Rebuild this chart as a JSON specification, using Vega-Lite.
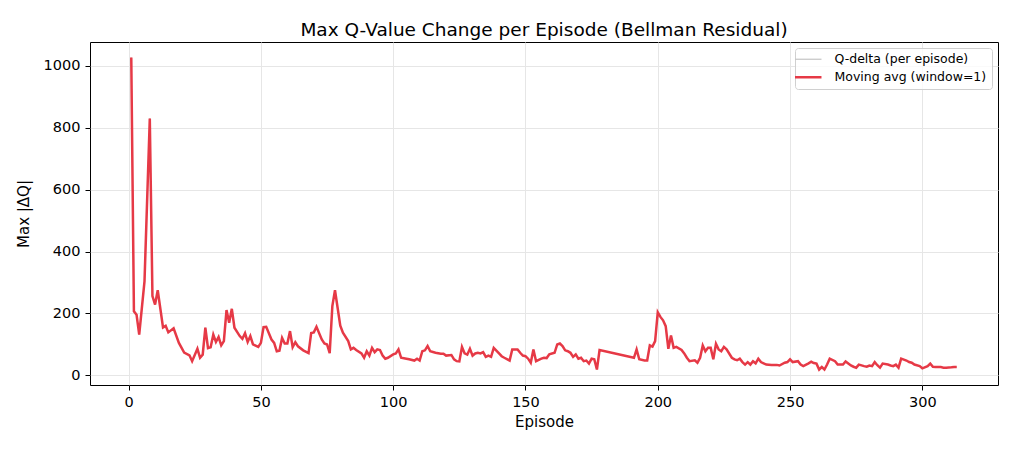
{
  "$schema": "https://vega.github.io/schema/vega-lite/v6.json",
  "autosize": {"type": "none"},
  "padding": {"left": 90, "top": 42, "right": 18, "bottom": 67},
  "width": 908,
  "height": 343,
  "background": "white",
  "title": {
    "text": "Max Q-Value Change per Episode (Bellman Residual)",
    "font": "DejaVu Sans",
    "fontSize": 18.5,
    "fontWeight": "normal",
    "color": "black",
    "anchor": "middle",
    "offset": 3
  },
  "config": {
    "view": {"stroke": "black", "strokeWidth": 1},
    "axis": {
      "labelFont": "DejaVu Sans",
      "labelFontSize": 14.5,
      "labelColor": "black",
      "titleFont": "DejaVu Sans",
      "titleFontSize": 15,
      "titleFontWeight": "normal",
      "titleColor": "black",
      "domain": false,
      "tickColor": "black",
      "tickSize": 5,
      "labelPadding": 5,
      "gridColor": "#e6e6e6",
      "gridWidth": 1
    }
  },
  "data": {
    "values": [
      {"episode": 1, "dq": 1027}, {"episode": 2, "dq": 207}, {"episode": 3, "dq": 196}, {"episode": 4, "dq": 132},
      {"episode": 6, "dq": 304}, {"episode": 8, "dq": 830}, {"episode": 9, "dq": 256}, {"episode": 10, "dq": 229},
      {"episode": 11, "dq": 275}, {"episode": 13, "dq": 155}, {"episode": 14, "dq": 160}, {"episode": 15, "dq": 139},
      {"episode": 17, "dq": 152}, {"episode": 19, "dq": 105}, {"episode": 21, "dq": 74}, {"episode": 23, "dq": 65},
      {"episode": 24, "dq": 46}, {"episode": 26, "dq": 86}, {"episode": 27, "dq": 57}, {"episode": 28, "dq": 67},
      {"episode": 29, "dq": 154}, {"episode": 30, "dq": 88}, {"episode": 31, "dq": 91}, {"episode": 32, "dq": 132},
      {"episode": 33, "dq": 108}, {"episode": 34, "dq": 124}, {"episode": 35, "dq": 97}, {"episode": 36, "dq": 111},
      {"episode": 37, "dq": 211}, {"episode": 38, "dq": 170}, {"episode": 39, "dq": 215}, {"episode": 40, "dq": 154},
      {"episode": 42, "dq": 127}, {"episode": 43, "dq": 118}, {"episode": 44, "dq": 136}, {"episode": 45, "dq": 108},
      {"episode": 46, "dq": 127}, {"episode": 47, "dq": 100}, {"episode": 49, "dq": 92}, {"episode": 50, "dq": 105},
      {"episode": 51, "dq": 156}, {"episode": 52, "dq": 157}, {"episode": 54, "dq": 116}, {"episode": 55, "dq": 105},
      {"episode": 56, "dq": 78}, {"episode": 57, "dq": 80}, {"episode": 58, "dq": 121}, {"episode": 59, "dq": 103},
      {"episode": 60, "dq": 103}, {"episode": 61, "dq": 143}, {"episode": 62, "dq": 91}, {"episode": 63, "dq": 107},
      {"episode": 64, "dq": 94}, {"episode": 66, "dq": 81}, {"episode": 68, "dq": 72}, {"episode": 69, "dq": 137},
      {"episode": 70, "dq": 139}, {"episode": 71, "dq": 157}, {"episode": 73, "dq": 116}, {"episode": 74, "dq": 103},
      {"episode": 75, "dq": 100}, {"episode": 76, "dq": 72}, {"episode": 77, "dq": 224}, {"episode": 78, "dq": 275},
      {"episode": 80, "dq": 161}, {"episode": 81, "dq": 138}, {"episode": 83, "dq": 111}, {"episode": 84, "dq": 84},
      {"episode": 85, "dq": 89}, {"episode": 86, "dq": 82}, {"episode": 88, "dq": 71}, {"episode": 89, "dq": 57},
      {"episode": 90, "dq": 78}, {"episode": 91, "dq": 64}, {"episode": 92, "dq": 89}, {"episode": 93, "dq": 75},
      {"episode": 94, "dq": 84}, {"episode": 95, "dq": 82}, {"episode": 96, "dq": 64}, {"episode": 97, "dq": 54},
      {"episode": 98, "dq": 57}, {"episode": 100, "dq": 68}, {"episode": 101, "dq": 71}, {"episode": 102, "dq": 84},
      {"episode": 103, "dq": 57}, {"episode": 105, "dq": 54}, {"episode": 106, "dq": 52}, {"episode": 108, "dq": 48},
      {"episode": 109, "dq": 54}, {"episode": 110, "dq": 48}, {"episode": 111, "dq": 78}, {"episode": 112, "dq": 81},
      {"episode": 113, "dq": 95}, {"episode": 114, "dq": 78}, {"episode": 116, "dq": 73}, {"episode": 118, "dq": 70},
      {"episode": 119, "dq": 70}, {"episode": 120, "dq": 64}, {"episode": 122, "dq": 66}, {"episode": 123, "dq": 52},
      {"episode": 124, "dq": 46}, {"episode": 125, "dq": 45}, {"episode": 126, "dq": 92}, {"episode": 127, "dq": 71},
      {"episode": 128, "dq": 67}, {"episode": 129, "dq": 86}, {"episode": 130, "dq": 64}, {"episode": 131, "dq": 71},
      {"episode": 132, "dq": 73}, {"episode": 133, "dq": 71}, {"episode": 134, "dq": 75}, {"episode": 135, "dq": 60},
      {"episode": 136, "dq": 64}, {"episode": 137, "dq": 60}, {"episode": 138, "dq": 89}, {"episode": 140, "dq": 71},
      {"episode": 141, "dq": 62}, {"episode": 142, "dq": 57}, {"episode": 144, "dq": 48}, {"episode": 145, "dq": 84},
      {"episode": 147, "dq": 84}, {"episode": 148, "dq": 73}, {"episode": 149, "dq": 64}, {"episode": 150, "dq": 62},
      {"episode": 151, "dq": 54}, {"episode": 152, "dq": 41}, {"episode": 153, "dq": 84}, {"episode": 154, "dq": 46},
      {"episode": 156, "dq": 54}, {"episode": 157, "dq": 57}, {"episode": 158, "dq": 56}, {"episode": 159, "dq": 68},
      {"episode": 161, "dq": 73}, {"episode": 162, "dq": 100}, {"episode": 163, "dq": 103}, {"episode": 164, "dq": 95},
      {"episode": 165, "dq": 81}, {"episode": 166, "dq": 78}, {"episode": 167, "dq": 73}, {"episode": 168, "dq": 60},
      {"episode": 169, "dq": 68}, {"episode": 170, "dq": 54}, {"episode": 171, "dq": 57}, {"episode": 172, "dq": 46},
      {"episode": 173, "dq": 48}, {"episode": 174, "dq": 38}, {"episode": 175, "dq": 54}, {"episode": 176, "dq": 52},
      {"episode": 177, "dq": 19}, {"episode": 178, "dq": 82}, {"episode": 191, "dq": 57}, {"episode": 192, "dq": 84},
      {"episode": 193, "dq": 52}, {"episode": 195, "dq": 48}, {"episode": 196, "dq": 48}, {"episode": 197, "dq": 97},
      {"episode": 198, "dq": 93}, {"episode": 199, "dq": 111}, {"episode": 200, "dq": 204}, {"episode": 201, "dq": 189},
      {"episode": 202, "dq": 178}, {"episode": 203, "dq": 159}, {"episode": 204, "dq": 86}, {"episode": 205, "dq": 129},
      {"episode": 206, "dq": 89}, {"episode": 207, "dq": 92}, {"episode": 209, "dq": 82}, {"episode": 210, "dq": 71},
      {"episode": 211, "dq": 57}, {"episode": 212, "dq": 46}, {"episode": 214, "dq": 49}, {"episode": 215, "dq": 41},
      {"episode": 216, "dq": 57}, {"episode": 217, "dq": 97}, {"episode": 218, "dq": 78}, {"episode": 219, "dq": 89},
      {"episode": 220, "dq": 89}, {"episode": 221, "dq": 52}, {"episode": 222, "dq": 102}, {"episode": 223, "dq": 84},
      {"episode": 224, "dq": 78}, {"episode": 225, "dq": 92}, {"episode": 226, "dq": 84}, {"episode": 228, "dq": 57},
      {"episode": 229, "dq": 52}, {"episode": 230, "dq": 49}, {"episode": 231, "dq": 54}, {"episode": 232, "dq": 43},
      {"episode": 233, "dq": 35}, {"episode": 234, "dq": 43}, {"episode": 235, "dq": 35}, {"episode": 236, "dq": 46},
      {"episode": 237, "dq": 39}, {"episode": 238, "dq": 54}, {"episode": 239, "dq": 43}, {"episode": 241, "dq": 35},
      {"episode": 243, "dq": 34}, {"episode": 245, "dq": 34}, {"episode": 246, "dq": 32}, {"episode": 248, "dq": 41},
      {"episode": 249, "dq": 43}, {"episode": 250, "dq": 52}, {"episode": 251, "dq": 43}, {"episode": 253, "dq": 46},
      {"episode": 254, "dq": 35}, {"episode": 255, "dq": 30}, {"episode": 257, "dq": 39}, {"episode": 258, "dq": 44},
      {"episode": 259, "dq": 40}, {"episode": 260, "dq": 38}, {"episode": 261, "dq": 19}, {"episode": 262, "dq": 27},
      {"episode": 263, "dq": 19}, {"episode": 264, "dq": 35}, {"episode": 265, "dq": 54}, {"episode": 267, "dq": 46},
      {"episode": 268, "dq": 35}, {"episode": 270, "dq": 35}, {"episode": 271, "dq": 45}, {"episode": 273, "dq": 32},
      {"episode": 274, "dq": 28}, {"episode": 275, "dq": 25}, {"episode": 276, "dq": 35}, {"episode": 278, "dq": 30},
      {"episode": 279, "dq": 28}, {"episode": 280, "dq": 32}, {"episode": 281, "dq": 30}, {"episode": 282, "dq": 43},
      {"episode": 283, "dq": 33}, {"episode": 284, "dq": 25}, {"episode": 285, "dq": 38}, {"episode": 287, "dq": 35},
      {"episode": 288, "dq": 32}, {"episode": 289, "dq": 30}, {"episode": 290, "dq": 35}, {"episode": 291, "dq": 25},
      {"episode": 292, "dq": 54}, {"episode": 294, "dq": 48}, {"episode": 295, "dq": 43}, {"episode": 296, "dq": 41},
      {"episode": 297, "dq": 35}, {"episode": 299, "dq": 30}, {"episode": 300, "dq": 23}, {"episode": 302, "dq": 30},
      {"episode": 303, "dq": 38}, {"episode": 304, "dq": 28}, {"episode": 305, "dq": 27}, {"episode": 307, "dq": 27},
      {"episode": 308, "dq": 25}, {"episode": 309, "dq": 25}, {"episode": 311, "dq": 26}, {"episode": 312, "dq": 27},
      {"episode": 313, "dq": 27}
    ]
  },
  "encoding": {
    "x": {
      "field": "episode",
      "type": "quantitative",
      "title": "Episode",
      "scale": {"domain": [-14.6, 328.6], "nice": false, "zero": false},
      "axis": {"values": [0, 50, 100, 150, 200, 250, 300], "titlePadding": 6}
    },
    "y": {
      "field": "dq",
      "type": "quantitative",
      "title": "Max |ΔQ|",
      "scale": {"domain": [-31, 1077], "nice": false, "zero": false},
      "axis": {"values": [0, 200, 400, 600, 800, 1000], "format": "d", "titlePadding": 12}
    }
  },
  "layer": [
    {
      "mark": {"type": "line", "strokeWidth": 1},
      "encoding": {
        "color": {
          "datum": "Q-delta (per episode)",
          "scale": {
            "domain": ["Q-delta (per episode)", "Moving avg (window=1)"],
            "range": ["#c4c4c4", "#e63946"]
          },
          "legend": {
            "title": null,
            "orient": "none",
            "legendX": 705,
            "legendY": 6,
            "symbolType": "stroke",
            "symbolSize": 700,
            "symbolStrokeWidth": 2.5,
            "symbolOpacity": 1,
            "symbolOffset": 2,
            "labelFont": "DejaVu Sans",
            "labelFontSize": 12.5,
            "labelColor": "black",
            "labelOffset": 20,
            "rowPadding": 5,
            "padding": 5,
            "fillColor": "rgba(255,255,255,0.8)",
            "strokeColor": "#d0d0d0",
            "cornerRadius": 3,
            "encode": {
              "symbols": {
                "update": {
                  "strokeWidth": {"signal": "datum.label === 'Moving avg (window=1)' ? 2.5 : 1.2"},
                  "opacity": {"value": 1}
                }
              }
            }
          }
        }
      }
    },
    {
      "mark": {"type": "line", "strokeWidth": 2.5},
      "encoding": {
        "color": {"datum": "Moving avg (window=1)"}
      }
    }
  ]
}
